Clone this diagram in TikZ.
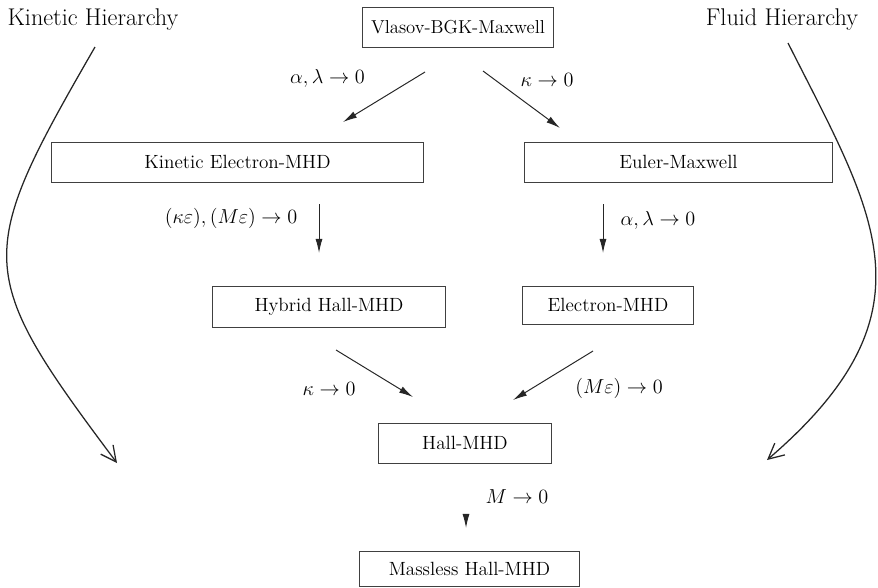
\documentclass[tikz,border=0pt]{standalone}
\usepackage{amsmath,amssymb}
\usepackage{tikz}
\usetikzlibrary{arrows.meta}
\tikzset{
    every node/.style={font=\fontsize{13.6}{16}\selectfont, inner sep=0mm}
}
\tikzset{model/.style={rectangle, draw=black!75, line width=0.7pt}}
\tikzset{cond/.style={font=\fontsize{15}{18}\selectfont}}
\tikzset{limit/.style={-{Latex[length=10pt,width=5pt]}, line width=0.7pt, black!85}}
\tikzset{hier/.style={-{Straight Barb[length=11pt,width=11pt]}, line width=0.9pt, black!85}}

\begin{document}
\begin{tikzpicture}[x=0.025cm, y=-0.025cm]
        \useasboundingbox (0,0) rectangle (878,587);
        % models
        \node (vbm) [model, minimum width=4.75cm, minimum height=1cm, font=\fontsize{13.3}{15}\selectfont] at (458, 27) {Vlasov-BGK-Maxwell};
        \node (kemhd) [model, minimum width=9.275cm, minimum height=1cm] at (237.5, 162) {Kinetic Electron-MHD};
        \node (em) [model, minimum width=7.675cm, minimum height=1cm] at (678.5, 162) {Euler-Maxwell};
        \node (hhmhd) [model, minimum width=5.8cm, minimum height=1.025cm] at (329, 306.5) {Hybrid Hall-MHD};
        \node (emhd) [model, minimum width=4.25cm, minimum height=0.95cm] at (608, 305) {Electron-MHD};
        \node (hmhd) [model, minimum width=4.3cm, minimum height=1cm] at (465, 443) {Hall-MHD};
        \node (mhmhd) [model, minimum width=5.475cm, minimum height=0.875cm] at (469.5, 568.5) {Massless Hall-MHD};
        % hierarchies
        \node (kin) [font=\fontsize{17.2}{20}\selectfont] at (93, 20) {Kinetic Hierarchy};
        \node (flu) [font=\fontsize{17.2}{20}\selectfont] at (782, 20) {Fluid Hierarchy};
        % limits
        \node (l1) [cond] at (327.5, 78) {$\alpha,\lambda\to 0$};
        \node (l2) [cond] at (547, 80) {$\kappa\to 0$};
        \node (l3) [cond] at (231, 218) {$(\kappa\varepsilon),(M\varepsilon)\to 0$};
        \node (l4) [cond] at (658, 220) {$\alpha,\lambda\to 0$};
        \node (l5) [cond] at (329, 389) {$\kappa\to 0$};
        \node (l6) [cond] at (619, 388) {$(M\varepsilon)\to 0$};
        \node (l7) [cond] at (517, 497) {$M\to 0$};
        % arrow ends
        \coordinate (a1s) at (425, 72);
        \coordinate (a1e) at (343, 122);
        \coordinate (a2s) at (483, 71);
        \coordinate (a2e) at (560, 128);
        \coordinate (a3s) at (319, 204);
        \coordinate (a3e) at (319, 253);
        \coordinate (a4s) at (603, 204);
        \coordinate (a4e) at (603, 253);
        \coordinate (a5s) at (336, 350);
        \coordinate (a5e) at (413, 397);
        \coordinate (a6s) at (593, 351);
        \coordinate (a6e) at (513, 400);
        \coordinate (a7s) at (466, 514);
        \coordinate (a7e) at (466, 528);
        \coordinate (khs) at (95, 47);
        \coordinate (khe) at (117, 463);
        \coordinate (fhs) at (788, 43);
        \coordinate (fhe) at (767, 460);
        \draw (a1s) edge [limit] (a1e);
        \draw (a2s) edge [limit] (a2e);
        \draw (a3s) edge [limit] (a3e);
        \draw (a4s) edge [limit] (a4e);
        \draw (a5s) edge [limit] (a5e);
        \draw (a6s) edge [limit] (a6e);
        \draw (a7s) edge [limit] (a7e);
        \draw [hier] (khs) .. controls (-25.9, 256.4) and (-26.2, 272.1) .. (khe);
        \draw [hier] (fhs) .. controls (874.3, 214.2) and (940.4, 311.3) .. (fhe);
\end{tikzpicture}
\end{document}
